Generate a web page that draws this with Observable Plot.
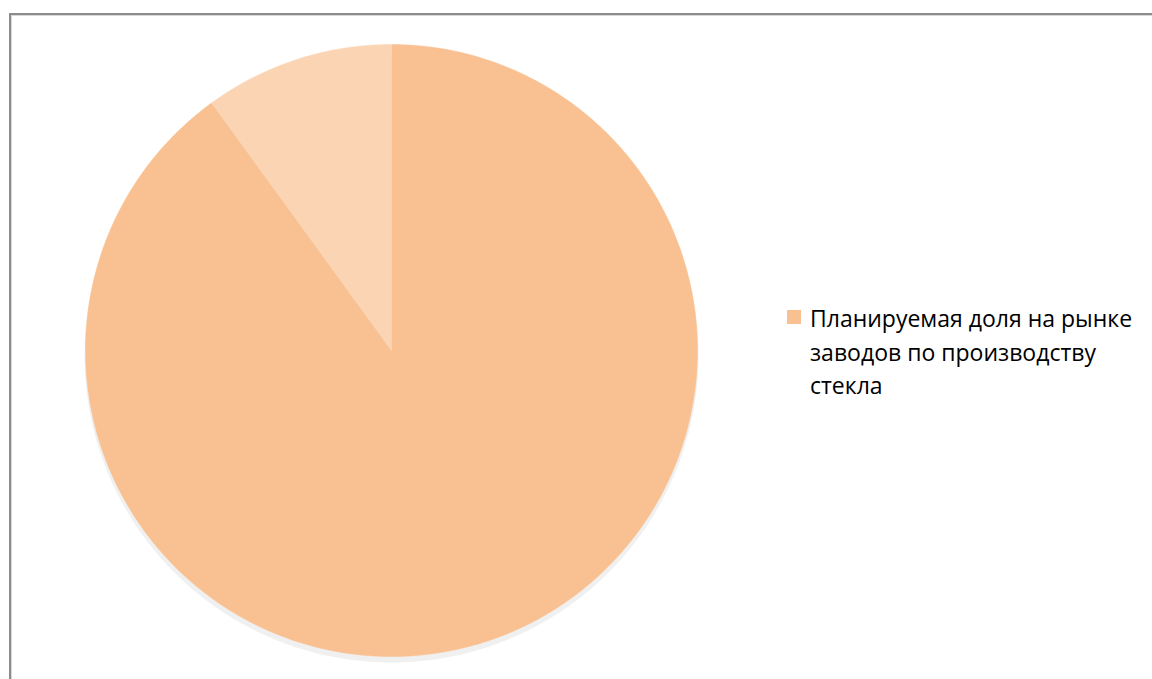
<!DOCTYPE html>
<html>
<head>
<meta charset="utf-8">
<script src="https://cdn.jsdelivr.net/npm/d3@7"></script>
<script src="https://cdn.jsdelivr.net/npm/@observablehq/plot@0.6"></script>
<style>
  html, body { margin: 0; padding: 0; background: #fff; overflow: hidden; }
  #wrap { position: relative; width: 1152px; height: 679px; }
  #frame { position: absolute; left: 9px; top: 13px; width: 1200px; height: 700px;
           border-left: 2px solid #8c8c8c; border-top: 2px solid #8c8c8c; box-sizing: border-box;
           box-shadow: inset 1px 1px 0 #d8d8d8; }
  #chart { position: absolute; left: 0; top: 0; }
  #legend { position: absolute; left: 787px; top: 302px; font-family: "Open Sans", sans-serif;
            font-size: 23px; line-height: 33.5px; color: #000; }
  #legend .sw { position: absolute; left: 0; top: 8px; width: 14px; height: 14px; }
  #legend .tx { margin-left: 23px; width: 335px; }
</style>
</head>
<body>
<div id="wrap">
  <div id="frame"></div>
  <div id="chart"></div>
  <div id="legend"></div>
</div>
<script>
// Data
const categories = ["Планируемая доля на рынке заводов по производству стекла", "Прочие"];
const values = [90, 10];
const colors = ["#F9C191", "#FBD4B4"];
const legendLabels = ["Планируемая доля на рынке заводов по производству стекла"];

// Build slice polygons (unit circle, clockwise from 12 o'clock)
const arcs = d3.pie().sort(null).value(d => d)(values);
const pts = [];
arcs.forEach((a, i) => {
  const n = Math.max(4, Math.ceil((a.endAngle - a.startAngle) / (Math.PI / 180)));
  pts.push({slice: categories[i], x: 0, y: 0});
  for (let k = 0; k <= n; k++) {
    const t = a.startAngle + (a.endAngle - a.startAngle) * k / n;
    pts.push({slice: categories[i], x: Math.sin(t), y: Math.cos(t)});
  }
  pts.push({slice: categories[i], x: 0, y: 0});
});
const circle = d3.range(0, 361).map(d => ({x: Math.sin(d * Math.PI / 180), y: Math.cos(d * Math.PI / 180)}));

const plot = Plot.plot({
  width: 1152,
  height: 679,
  marginLeft: 85,
  marginRight: 455,
  marginTop: 44,
  marginBottom: 23,
  x: {domain: [-1, 1], axis: null},
  y: {domain: [-1, 1], axis: null},
  color: {domain: categories, range: colors},
  marks: [
    Plot.line(circle, {x: "x", y: "y", fill: "#f0f0f0", stroke: "#f0f0f0", strokeWidth: 2, dy: 5, curve: "linear"}),
    Plot.line(pts, {x: "x", y: "y", z: "slice", fill: "slice", stroke: "slice", strokeWidth: 0.5, curve: "linear"})
  ]
});
document.getElementById("chart").appendChild(plot);

const leg = document.getElementById("legend");
legendLabels.forEach((lab, i) => {
  const row = document.createElement("div");
  row.style.position = "relative";
  const sw = document.createElement("div");
  sw.className = "sw";
  sw.style.background = colors[i];
  const tx = document.createElement("div");
  tx.className = "tx";
  tx.textContent = lab;
  row.appendChild(sw); row.appendChild(tx);
  leg.appendChild(row);
});
</script>
</body>
</html>
